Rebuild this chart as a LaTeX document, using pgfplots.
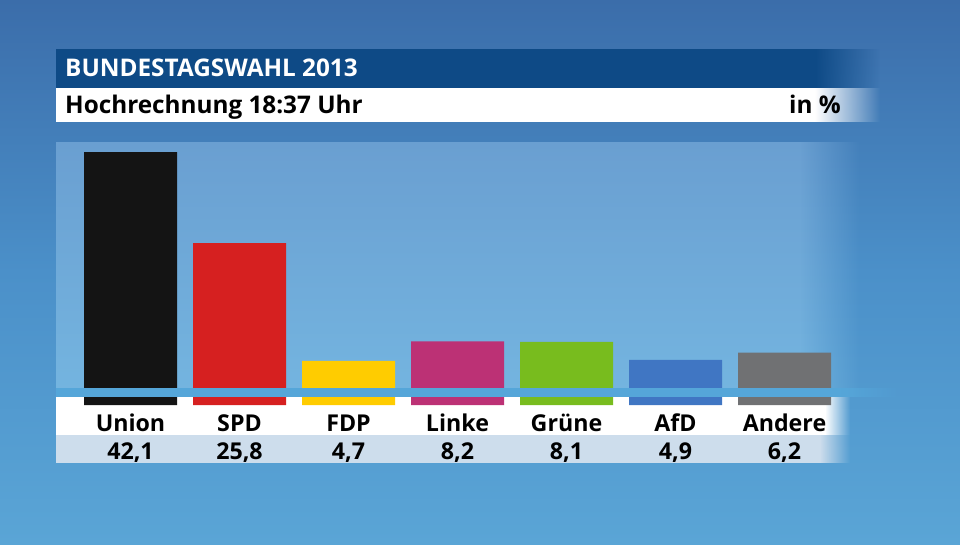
\documentclass[border=0pt]{standalone}
\usepackage{pgfplots}
\pgfplotsset{compat=1.18}
\usepackage{fontspec}
\setmainfont{Open Sans}
\usetikzlibrary{fadings}
\definecolor{bgTop}{HTML}{3B6DAA}
\definecolor{bgMid}{HTML}{4B90C9}
\definecolor{bgBot}{HTML}{5AA5D6}
\definecolor{titleblue}{HTML}{0E4A86}
\definecolor{panelTop}{HTML}{6A9FD1}
\definecolor{panelBot}{HTML}{74B5E0}
\definecolor{band}{HTML}{55A6D9}
\definecolor{valrow}{HTML}{CDDDEC}
\definecolor{cUnion}{HTML}{141414}
\definecolor{cSPD}{HTML}{D62020}
\definecolor{cFDP}{HTML}{FFCC00}
\definecolor{cLinke}{HTML}{BC3175}
\definecolor{cGruene}{HTML}{78BC1E}
\definecolor{cAfD}{HTML}{4076C3}
\definecolor{cAndere}{HTML}{707173}
\newcommand\lab{\fontsize{23.2}{28}\selectfont\bfseries}
\newcommand\ttl{\fontsize{24.3}{28}\selectfont\bfseries}
\begin{document}
\begin{tikzpicture}[x=1pt,y=1pt]
\useasboundingbox (0,0) rectangle (960,544);
\shade[top color=bgTop, bottom color=bgBot, middle color=bgMid] (0,0) rectangle (960,544);
% title bar
\fill[titleblue] (56,456) rectangle (815,495);
\fill[titleblue, path fading=east] (815,456) rectangle (880,495);
\fill[white] (56,422) rectangle (815,456);
\fill[white, path fading=east] (815,422) rectangle (880,456);
\node[anchor=base west, text=white, font=\ttl, inner sep=0pt] at (65,467) {BUNDESTAGSWAHL 2013};
\node[anchor=base west, text=black, font=\ttl, inner sep=0pt] at (65,430) {Hochrechnung 18:37 Uhr};
\node[anchor=base east, text=black, font=\ttl, inner sep=0pt] at (841,430) {in \%};
% panel
\shade[top color=panelTop, bottom color=panelBot] (56,147) rectangle (800,401);
\shade[top color=panelTop, bottom color=panelBot, path fading=east] (800,147) rectangle (860,401);
% white row and value row
\fill[white] (56,109) rectangle (825,147);
\fill[white, path fading=east] (825,109) rectangle (850,147);
\fill[valrow] (56,81) rectangle (820,109);
\fill[valrow, path fading=east] (820,81) rectangle (850,109);
\begin{axis}[
  at={(76pt,139pt)}, anchor=south west, scale only axis,
  width=763pt, height=263.4pt,
  xmin=-0.5, xmax=6.5, ymin=-3.2, ymax=44,
  clip=false,
  axis line style={draw=none},
  ytick=\empty,
  xtick={0,1,2,3,4,5,6},
  xticklabels={Union,SPD,FDP,Linke,Grüne,AfD,Andere},
  major tick length=0pt,
  xticklabel style={anchor=base, yshift=-26pt, font=\lab, inner sep=0pt},
  ybar, bar width=93pt, bar shift=0pt,
]
\addplot[fill=cUnion, draw=none] coordinates {(0,42.1) (0,-3.2)};
\addplot[fill=cSPD, draw=none] coordinates {(1,25.8) (1,-3.2)};
\addplot[fill=cFDP, draw=none] coordinates {(2,4.7) (2,-3.2)};
\addplot[fill=cLinke, draw=none] coordinates {(3,8.2) (3,-3.2)};
\addplot[fill=cGruene, draw=none] coordinates {(4,8.1) (4,-3.2)};
\addplot[fill=cAfD, draw=none] coordinates {(5,4.9) (5,-3.2)};
\addplot[fill=cAndere, draw=none] coordinates {(6,6.2) (6,-3.2)};
\addplot[draw=none, fill=none, nodes near coords, point meta=explicit symbolic,
  nodes near coords style={anchor=base, yshift=-54pt, font=\lab, inner sep=0pt, text=black}]
  coordinates {(0,-3.2) [42,1] (1,-3.2) [25,8] (2,-3.2) [4,7] (3,-3.2) [8,2] (4,-3.2) [8,1] (5,-3.2) [4,9] (6,-3.2) [6,2]};
\end{axis}
% band over bars
\fill[band] (56,147) rectangle (840,156);
\fill[band, path fading=east] (840,147) rectangle (900,156);
\end{tikzpicture}
\end{document}
